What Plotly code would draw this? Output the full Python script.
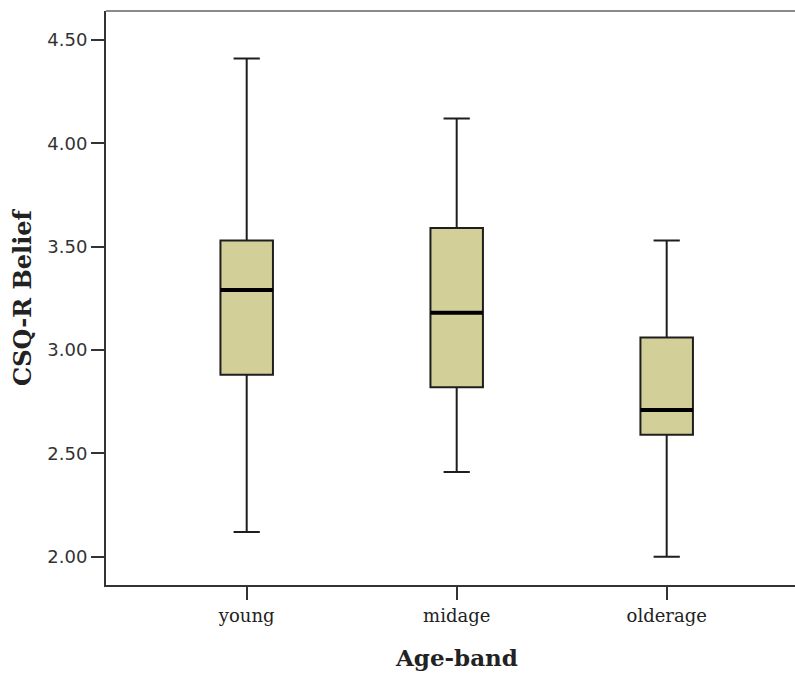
import plotly.graph_objects as go

categories = ["young", "midage", "olderage"]
lower_whisker = [2.12, 2.41, 2.00]
q1_values = [2.88, 2.82, 2.59]
median_values = [3.29, 3.18, 2.71]
q3_values = [3.53, 3.59, 3.06]
upper_whisker = [4.41, 4.12, 3.53]
y_tick_values = [2.0, 2.5, 3.0, 3.5, 4.0, 4.5]
y_tick_labels = ["2.00", "2.50", "3.00", "3.50", "4.00", "4.50"]

positions = list(range(len(categories)))
box_width = 0.25

fig = go.Figure()
fig.add_trace(go.Box(
    x=positions,
    q1=q1_values,
    median=median_values,
    q3=q3_values,
    lowerfence=lower_whisker,
    upperfence=upper_whisker,
    width=box_width,
    whiskerwidth=0.5,
    fillcolor="#D3CF98",
    line=dict(color="#1e1e1e", width=2),
    boxpoints=False,
    hoverinfo="skip",
    showlegend=False,
))

# thick median lines
mx, my = [], []
for p, m in zip(positions, median_values):
    mx += [p - box_width / 2, p + box_width / 2, None]
    my += [m, m, None]
fig.add_trace(go.Scatter(x=mx, y=my, mode="lines",
                         line=dict(color="#000000", width=4),
                         hoverinfo="skip", showlegend=False))

fig.update_layout(
    width=795, height=674,
    margin=dict(l=106, r=0, t=11, b=89),
    paper_bgcolor="white", plot_bgcolor="white",
    xaxis=dict(
        range=[-0.67, 2.611],
        tickvals=positions, ticktext=categories,
        ticks="outside", ticklen=13, tickwidth=2, tickcolor="#333",
        showline=True, linecolor="#333", linewidth=2,
        showgrid=False, zeroline=False,
        tickfont=dict(family="DejaVu Serif", size=18, color="#222"),
    ),
    yaxis=dict(
        range=[1.863, 4.640],
        tickvals=y_tick_values, ticktext=y_tick_labels,
        ticks="outside", ticklen=13, tickwidth=2, tickcolor="#333",
        showline=True, linecolor="#333", linewidth=2,
        showgrid=False, zeroline=False,
        tickfont=dict(family="DejaVu Sans", size=18, color="#333"),
        title=dict(text="CSQ-R Belief", standoff=9,
                   font=dict(family="DejaVu Serif", size=24, color="#222", weight="bold")),
    ),
    shapes=[dict(type="line", xref="paper", yref="paper", x0=0, x1=1, y0=1, y1=1,
                 line=dict(color="#8a8a8a", width=2))],
    annotations=[dict(text="<b>Age-band</b>", xref="x", yref="paper", x=1, y=0,
                      yshift=-72, showarrow=False, yanchor="middle",
                      font=dict(family="DejaVu Serif", size=23, color="#222"))],
)

fig.write_html("out.html", config={"displayModeBar": False},
               post_script="document.body.style.margin='0';document.body.style.overflow='hidden';")
